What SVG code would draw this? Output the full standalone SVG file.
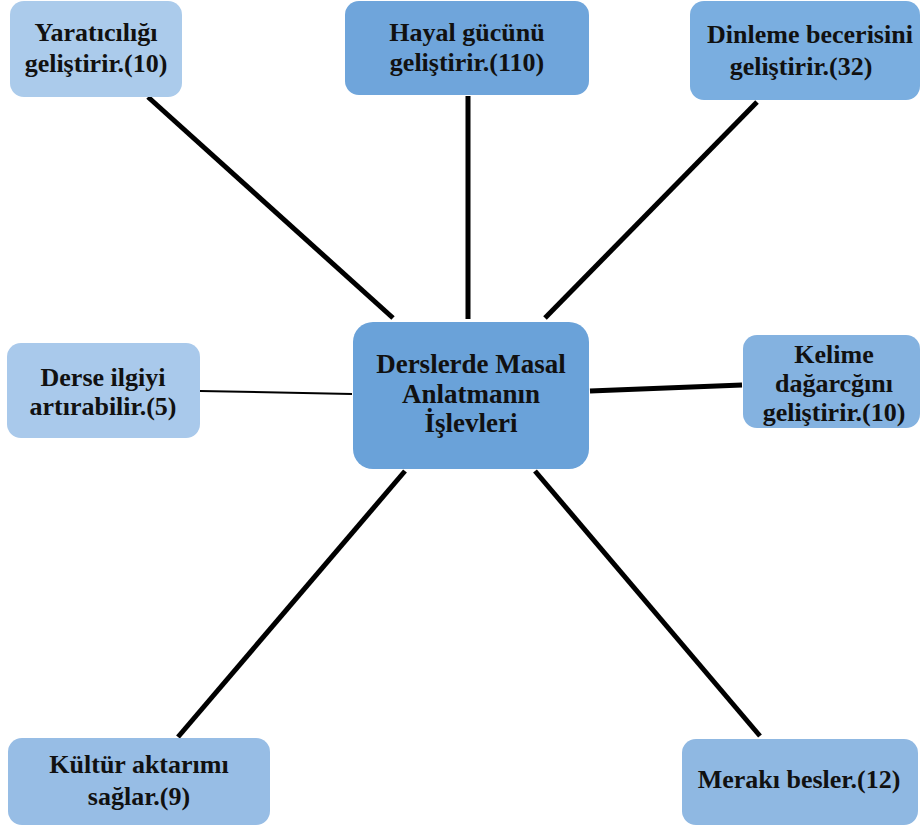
<svg xmlns="http://www.w3.org/2000/svg" width="921" height="827" viewBox="0 0 921 827">
<style>
.box{stroke:none}
text{font-family:'Liberation Serif','Times New Roman','DejaVu Serif',serif;font-weight:700;font-size:26px;fill:#111;text-anchor:middle}
.c text{font-size:27px}
.ln{stroke:#000;stroke-width:5;fill:none}
</style>
<rect width="921" height="827" fill="#fff"/>
<g id="connectors">
<line class="ln" x1="148" y1="97" x2="393" y2="318"/>
<line class="ln" x1="468" y1="96" x2="468" y2="319"/>
<line class="ln" x1="757" y1="102" x2="545" y2="318"/>
<line class="ln" x1="200" y1="391" x2="352" y2="394" style="stroke-width:2"/>
<line class="ln" x1="590" y1="391" x2="742" y2="385"/>
<line class="ln" x1="405" y1="471" x2="178" y2="737"/>
<line class="ln" x1="535" y1="471" x2="760" y2="736"/>
</g>
<g id="n-yaraticilik">
<rect class="box" x="10" y="1" width="172" height="96" rx="14" fill="#abcbeb"/>
<text x="96" y="41">Yaratıcılığı</text>
<text x="96" y="72">geliştirir.(10)</text>
</g>
<g id="n-hayal">
<rect class="box" x="345" y="1" width="244" height="94" rx="14" fill="#6fa5db"/>
<text x="467" y="41">Hayal gücünü</text>
<text x="467" y="71">geliştirir.(110)</text>
</g>
<g id="n-dinleme">
<rect class="box" x="690" y="1" width="230" height="99" rx="14" fill="#7aaee0"/>
<text x="810" y="43">Dinleme becerisini</text>
<text x="801" y="75">geliştirir.(32)</text>
</g>
<g id="n-center" class="c">
<rect class="box" x="353" y="322" width="236" height="147" rx="20" fill="#6aa2d9"/>
<text x="471" y="373">Derslerde Masal</text>
<text x="471" y="403">Anlatmanın</text>
<text x="471" y="432">İşlevleri</text>
</g>
<g id="n-derse">
<rect class="box" x="7" y="343" width="193" height="95" rx="14" fill="#a9c9eb"/>
<text x="103" y="386">Derse ilgiyi</text>
<text x="103" y="415">artırabilir.(5)</text>
</g>
<g id="n-kelime">
<rect class="box" x="743" y="335" width="177" height="93" rx="14" fill="#84b2e0"/>
<text x="834" y="363">Kelime</text>
<text x="834" y="392">dağarcğını</text>
<text x="834" y="421">geliştirir.(10)</text>
</g>
<g id="n-kultur">
<rect class="box" x="8" y="738" width="262" height="87" rx="14" fill="#97bde5"/>
<text x="139" y="773">Kültür aktarımı</text>
<text x="139" y="805">sağlar.(9)</text>
</g>
<g id="n-merak">
<rect class="box" x="682" y="739" width="236" height="86" rx="14" fill="#8fb8e2"/>
<text x="799" y="788">Merakı besler.(12)</text>
</g>
</svg>
